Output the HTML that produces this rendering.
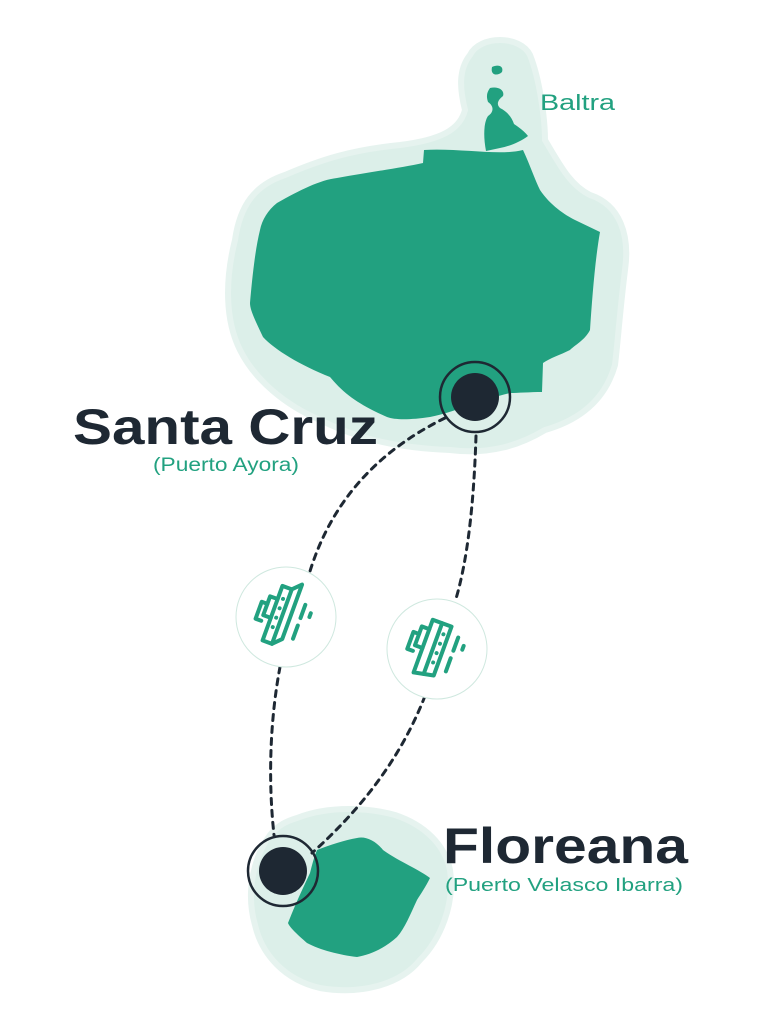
<!DOCTYPE html>
<html><head><meta charset="utf-8"><style>
html,body{margin:0;padding:0;background:#fff;}
svg{display:block;}
</style></head><body>
<svg width="760" height="1024" viewBox="0 0 760 1024" xmlns="http://www.w3.org/2000/svg">
<!-- halos -->
<g fill="#dcefe9" stroke="#e6f3ef" stroke-width="6">
<path d="M470,55 C480,35 520,35 530,55 C540,80 545,120 545,140 C560,165 570,185 590,195 C620,205 630,235 625,270 C620,310 618,340 615,365 C605,400 580,420 545,430 C520,445 490,455 450,450 C400,448 360,440 320,420 C285,405 255,380 240,350 C225,320 225,280 235,240 C240,205 255,185 285,175 C320,160 350,150 400,145 C440,140 460,130 465,110 C460,90 458,70 470,55 Z"/>
<path d="M297,818 C330,805 370,808 395,815 C425,825 445,845 450,870 C455,905 440,940 420,960 C400,985 360,995 320,988 C285,980 262,955 255,925 C245,890 255,855 270,835 C278,825 287,821 297,818 Z"/>
</g>
<!-- islands -->
<g fill="#22a180">
<path d="M277,203 C300,190 320,180 337,178 C370,172 400,168 423,163 L424,150 C460,148 500,156 523,150 C530,165 535,180 540,190 C550,205 565,215 575,220 L600,232 C595,260 592,300 590,330 C585,340 575,345 570,350 C560,355 550,358 543,363 L542,392 C530,392 518,393 510,393 C480,400 455,412 430,417 C410,420 395,420 387,417 C360,405 345,395 330,377 C300,365 275,350 263,337 C255,320 250,310 250,303 C252,280 255,250 260,230 C262,220 268,210 277,203 Z"/>
<path d="M492,67 C498,64 504,66 502,72 C498,76 490,76 492,67 Z"/>
<path d="M490,88 C498,86 505,90 503,96 C498,100 496,104 500,108 C508,112 512,118 514,124 C520,128 525,132 528,136 C520,142 510,146 500,148 L486,151 C483,135 484,122 488,116 C494,112 494,106 488,102 C486,96 487,92 490,88 Z"/>
<path d="M317,850 C330,845 345,840 357,838 C365,836 375,840 383,850 C400,862 420,870 430,878 C425,888 420,895 417,900 C410,915 405,928 397,937 C385,948 370,955 357,957 C340,955 320,950 307,943 C298,935 290,928 288,923 C295,905 302,890 310,873 C312,865 314,857 317,850 Z"/>
</g>
<!-- dotted routes -->
<g fill="none" stroke="#1e2833" stroke-width="3" stroke-dasharray="6,6" stroke-linecap="round">
<path d="M445,418 C380,450 330,500 308,578"/>
<path d="M280,667 C270,720 268,780 274,835"/>
<path d="M476,436 C474,500 468,560 455,602"/>
<path d="M425,696 C400,760 360,810 312,853"/>
</g>
<!-- ship circles -->
<g>
<circle cx="286" cy="617" r="50" fill="#fff" stroke="#cfe8df" stroke-width="1"/>
<circle cx="437" cy="649" r="50" fill="#fff" stroke="#cfe8df" stroke-width="1"/>
<g fill="none" stroke="#22a180" stroke-width="4" stroke-linecap="round" stroke-linejoin="round">
<g transform="translate(286,617) rotate(20)">
<path d="M-14,-28 L-4,-28 L-4,30 L-14,30 Z"/>
<path d="M-4,-28 L4,-36 L4,22 L-4,30"/>
<path d="M-14,-14 L-22,-14 L-22,6 L-14,6"/>
<path d="M-22,-6 L-28,-6 L-28,12 L-22,12"/>
<path d="M14,-18 L14,-4 M14,4 L14,18 M22,-12 L22,-8"/>
</g>
<g transform="translate(437,649) rotate(20)">
<path d="M-14,-26 L6,-26 L6,26 L-14,30 Z"/>
<path d="M-4,-26 L-4,28"/>
<path d="M-14,-16 L-22,-16 L-22,4 L-14,4"/>
<path d="M-22,-8 L-28,-8 L-28,10 L-22,10"/>
<path d="M16,-18 L16,-4 M16,4 L16,18 M24,-12 L24,-8"/>
</g>
</g>
<g fill="#22a180">
<g transform="translate(286,617) rotate(20)"><circle cx="-9" cy="-16" r="2"/><circle cx="-9" cy="-6" r="2"/><circle cx="-9" cy="4" r="2"/><circle cx="-9" cy="14" r="2"/></g>
<g transform="translate(437,649) rotate(20)"><circle cx="1" cy="-16" r="2"/><circle cx="1" cy="-6" r="2"/><circle cx="1" cy="4" r="2"/><circle cx="1" cy="14" r="2"/></g>
</g>
</g>
<!-- markers -->
<circle cx="475" cy="397" r="35" fill="none" stroke="#1e2833" stroke-width="2.5"/>
<circle cx="475" cy="397" r="24" fill="#1e2833"/>
<circle cx="283" cy="871" r="35" fill="none" stroke="#1e2833" stroke-width="2.5"/>
<circle cx="283" cy="871" r="24" fill="#1e2833"/>
<!-- labels -->
<g font-family="Liberation Sans, sans-serif">
<text x="73" y="444" font-size="50" font-weight="bold" fill="#1e2833" textLength="305" lengthAdjust="spacingAndGlyphs">Santa Cruz</text>
<text x="153" y="471" font-size="19" fill="#22a180" textLength="146" lengthAdjust="spacingAndGlyphs">(Puerto Ayora)</text>
<text x="443" y="863" font-size="50" font-weight="bold" fill="#1e2833" textLength="245" lengthAdjust="spacingAndGlyphs">Floreana</text>
<text x="445" y="891" font-size="18" fill="#22a180" textLength="238" lengthAdjust="spacingAndGlyphs">(Puerto Velasco Ibarra)</text>
<text x="540" y="110" font-size="22" fill="#22a180" textLength="75" lengthAdjust="spacingAndGlyphs">Baltra</text>
</g>
</svg>
</body></html>
